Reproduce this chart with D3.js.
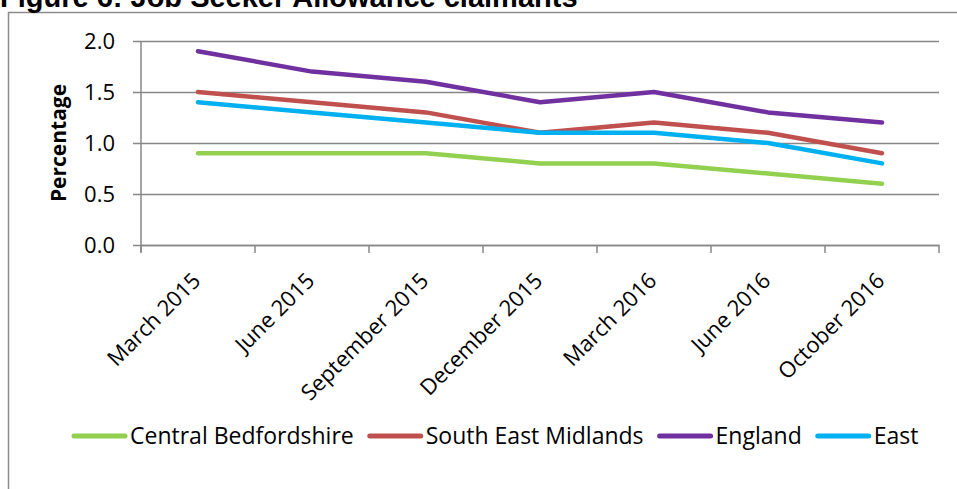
<!DOCTYPE html>
<html>
<head>
<meta charset="utf-8">
<script src="https://cdn.jsdelivr.net/npm/d3@7"></script>
<style>
  html, body { margin: 0; padding: 0; background: #fff; }
  svg { display: block; }
</style>
</head>
<body>
<svg id="chart" width="957" height="489"></svg>
<script>
// Job Seeker Allowance claimants, percentage of working-age population
const periods = ["March 2015", "June 2015", "September 2015", "December 2015", "March 2016", "June 2016", "October 2016"];
const centralBedfordshire = [0.9, 0.9, 0.9, 0.8, 0.8, 0.7, 0.6];
const southEastMidlands = [1.5, 1.4, 1.3, 1.1, 1.2, 1.1, 0.9];
const england = [1.9, 1.7, 1.6, 1.4, 1.5, 1.3, 1.2];
const east = [1.4, 1.3, 1.2, 1.1, 1.1, 1.0, 0.8];
const yTicks = [0, 0.5, 1.0, 1.5, 2.0];

const series = [
  { name: "Central Bedfordshire", values: centralBedfordshire, color: "#92D050" },
  { name: "South East Midlands", values: southEastMidlands, color: "#C0504D" },
  { name: "England", values: england, color: "#7030A0" },
  { name: "East", values: east, color: "#00B0F0" }
];

const svg = d3.select("#chart");
const labelFont = "'Open Sans', Lato, sans-serif";
const axisGrey = "#878787";

// outer frame (top and left edges visible)
svg.append("path")
  .attr("d", "M8.5,489 V12.5 H957")
  .attr("fill", "none").attr("stroke", "#8c8c8c").attr("stroke-width", 1.5);

// title (sits partly above the top of the page)
svg.append("text")
  .attr("x", 0).attr("y", 7)
  .attr("font-family", "'Liberation Sans', Arial, sans-serif")
  .attr("font-weight", "bold").attr("font-size", 29)
  .attr("fill", "#000")
  .text("Figure 6: Job Seeker Allowance claimants");

const plot = { left: 141, right: 939, top: 41, bottom: 245 };

const x = d3.scaleBand().domain(periods).range([plot.left, plot.right]);
const y = d3.scaleLinear().domain([0, 2]).range([plot.bottom, plot.top]);

// horizontal gridlines with ticks on the left
const yAxis = d3.axisLeft(y).tickValues(yTicks)
  .tickFormat(d3.format(".1f"))
  .tickSize(-(plot.right - plot.left));
const gy = svg.append("g").attr("transform", `translate(${plot.left},0)`).call(yAxis);
gy.select(".domain").remove();
gy.selectAll(".tick line")
  .attr("x1", -8)
  .attr("stroke", axisGrey).attr("stroke-width", 1.5);
gy.selectAll(".tick text")
  .attr("font-family", labelFont).attr("font-size", 22).attr("fill", "#000")
  .attr("x", -26).attr("dy", "0.36em");

// vertical axis line
svg.append("line")
  .attr("x1", plot.left).attr("x2", plot.left)
  .attr("y1", plot.top).attr("y2", plot.bottom + 7)
  .attr("stroke", axisGrey).attr("stroke-width", 1.5);

// category axis
const xAxis = d3.axisBottom(x).tickSize(0).tickFormat(d => d);
const gx = svg.append("g").attr("transform", `translate(0,${plot.bottom})`).call(xAxis);
gx.select(".domain").attr("stroke", axisGrey).attr("stroke-width", 1.5);
gx.selectAll(".tick text")
  .attr("font-family", labelFont).attr("font-size", 22).attr("fill", "#000")
  .attr("text-anchor", "end")
  .attr("dy", 0).attr("y", 0)
  .attr("transform", "translate(4,37) rotate(-45)");

// tick marks at category boundaries
const boundaries = periods.map(p => x(p)).concat([x.range()[1]]);
svg.append("g").selectAll("line").data(boundaries).join("line")
  .attr("x1", d => d).attr("x2", d => d)
  .attr("y1", plot.bottom).attr("y2", plot.bottom + 8)
  .attr("stroke", axisGrey).attr("stroke-width", 1.5);

// y axis title
svg.append("text")
  .attr("transform", `translate(66,${(plot.top + plot.bottom) / 2}) rotate(-90)`)
  .attr("text-anchor", "middle")
  .attr("font-family", "'Open Sans', sans-serif")
  .attr("font-weight", "bold").attr("font-size", 21)
  .text("Percentage");

// series lines
const line = d3.line()
  .x((d, i) => x(periods[i]) + x.bandwidth() / 2)
  .y(d => y(d));

svg.append("g").selectAll("path").data(series).join("path")
  .attr("d", s => line(s.values))
  .attr("fill", "none")
  .attr("stroke", s => s.color)
  .attr("stroke-width", 4.5)
  .attr("stroke-linecap", "round")
  .attr("stroke-linejoin", "round");

// legend
const legend = svg.append("g").attr("transform", "translate(72,436)");
let lx = 0;
series.forEach(s => {
  const g = legend.append("g").attr("transform", `translate(${lx},0)`);
  g.append("line")
    .attr("x1", 2).attr("x2", 53).attr("y1", 0).attr("y2", 0)
    .attr("stroke", s.color).attr("stroke-width", 5).attr("stroke-linecap", "round");
  const t = g.append("text")
    .attr("x", 58).attr("y", 8)
    .attr("font-family", labelFont).attr("font-size", 23)
    .attr("fill", "#000")
    .text(s.name);
  lx += 58 + t.node().getComputedTextLength() + 14;
});
</script>
</body>
</html>
